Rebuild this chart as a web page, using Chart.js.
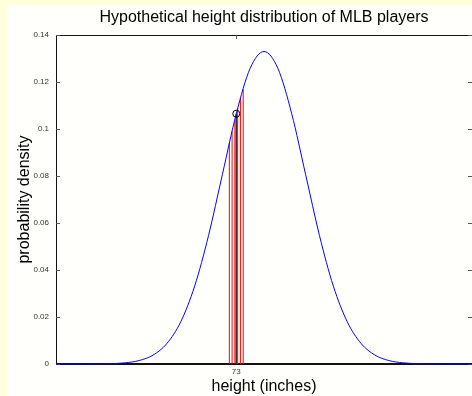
<!DOCTYPE html>
<html>
<head>
<meta charset="utf-8">
<script src="https://cdn.jsdelivr.net/npm/chart.js@4"></script>
<style>
  html, body { margin: 0; padding: 0; width: 472px; height: 396px; overflow: hidden; background: #ffffdd; }
  #wrap { position: absolute; left: 7px; top: 6px; width: 470px; height: 390px; background: #fffffc; }
</style>
</head>
<body>
<div id="wrap"><canvas id="c" width="470" height="390"></canvas></div>
<script>
// values
const heights = [60, 61, 62, 63, 64, 65, 66, 67, 68, 69, 70, 71, 72, 73, 74, 75,
                 76, 77, 78, 79, 80, 81, 82, 83, 84, 85, 86, 87, 88, 89, 90];
const density = [0, 0, 0, 0.00004, 0.00016, 0.00051, 0.00148, 0.0038, 0.00874, 0.018, 0.03316,
                 0.05467, 0.08066, 0.10648, 0.12579, 0.13298, 0.12579, 0.10648, 0.08066,
                 0.05467, 0.03316, 0.018, 0.00874, 0.0038, 0.00148, 0.00051, 0.00016, 0.00004, 0, 0, 0];
const sampleX = [72.5, 72.7, 72.9, 73.1, 73.3, 73.5];
const sampleY = [0.094, 0.099, 0.104, 0.109, 0.113, 0.117];
const markX = 73;
const markY = 0.1065;
const yTicks = [0, 0.02, 0.04, 0.06, 0.08, 0.1, 0.12, 0.14];
const xTicks = [73];
const chartTitle = 'Hypothetical height distribution of MLB players';

const FONT = '"Liberation Sans", Arial, Helvetica, sans-serif';

// matlab style frame, inward ticks and title centred over the plot
const frame = {
  id: 'frame',
  beforeDatasetsDraw(chart) {
    const { ctx, chartArea: a, scales: { x, y } } = chart;
    ctx.save();
    ctx.strokeStyle = '#111';
    ctx.lineWidth = 1;
    ctx.strokeRect(a.left + 0.5, a.top + 0.5, a.right - a.left, a.bottom - a.top);
    ctx.beginPath();
    ctx.moveTo(a.left, a.bottom - 0.5);
    ctx.lineTo(a.right, a.bottom - 0.5);
    ctx.stroke();
    ctx.strokeStyle = '#555';
    ctx.beginPath();
    yTicks.forEach(v => {
      const py = Math.round(y.getPixelForValue(v)) + 0.5;
      ctx.moveTo(a.left, py); ctx.lineTo(a.left + 4, py);
      ctx.moveTo(a.right - 4, py); ctx.lineTo(a.right, py);
    });
    xTicks.forEach(v => {
      const px = Math.round(x.getPixelForValue(v)) + 0.5;
      ctx.moveTo(px, a.bottom); ctx.lineTo(px, a.bottom - 4);
      ctx.moveTo(px, a.top); ctx.lineTo(px, a.top + 4);
    });
    ctx.stroke();
    ctx.fillStyle = '#000';
    ctx.font = '16px ' + FONT;
    ctx.textAlign = 'center';
    ctx.textBaseline = 'middle';
    ctx.fillText(chartTitle, (a.left + a.right) / 2, 12);
    ctx.restore();
  }
};

const redLines = sampleX.map((sx, i) => ({
  data: [{ x: sx, y: 0 }, { x: sx, y: sampleY[i] }],
  borderColor: '#ff0000',
  borderWidth: 1,
  pointRadius: 0,
  showLine: true
}));

new Chart(document.getElementById('c'), {
  type: 'scatter',
  data: {
    datasets: [
      {
        data: [{ x: markX, y: markY }],
        pointRadius: 3.5,
        borderColor: '#000',
        borderWidth: 1,
        backgroundColor: 'rgba(0,0,0,0)'
      },
      {
        data: heights.map((h, i) => ({ x: h, y: density[i] })),
        borderColor: '#0000ff',
        borderWidth: 1,
        pointRadius: 0,
        showLine: true,
        cubicInterpolationMode: 'monotone',
        clip: false
      },
      {
        data: [{ x: markX, y: 0 }, { x: markX, y: markY }],
        borderColor: '#333',
        borderWidth: 1.5,
        pointRadius: 0,
        showLine: true
      },
      ...redLines
    ]
  },
  plugins: [frame],
  options: {
    responsive: false,
    animation: false,
    events: [],
    layout: { padding: { top: 29, right: 4, left: 0, bottom: 0 } },
    plugins: {
      legend: { display: false },
      title: { display: false },
      tooltip: { enabled: false }
    },
    scales: {
      x: {
        type: 'linear',
        min: 60,
        max: 90,
        grid: { display: false, drawTicks: false },
        border: { display: false },
        afterBuildTicks: s => { s.ticks = xTicks.map(v => ({ value: v })); },
        afterFit: s => { s.height = 32; },
        ticks: { font: { size: 8, family: FONT }, color: '#333', padding: 3 },
        title: {
          display: true,
          text: 'height (inches)',
          font: { size: 16, family: FONT },
          color: '#000',
          padding: { top: 0, bottom: 0 }
        }
      },
      y: {
        min: 0,
        max: 0.14,
        grid: { display: false, drawTicks: false },
        border: { display: false },
        afterBuildTicks: s => { s.ticks = yTicks.map(v => ({ value: v })); },
        afterFit: s => { s.width = 49; },
        ticks: {
          font: { size: 8, family: FONT },
          color: '#333',
          padding: 7,
          callback: v => String(+v.toFixed(2))
        },
        title: {
          display: true,
          text: 'probability density',
          font: { size: 16, family: FONT },
          color: '#000',
          padding: { top: 8, bottom: 0 }
        }
      }
    }
  }
});
</script>
</body>
</html>
